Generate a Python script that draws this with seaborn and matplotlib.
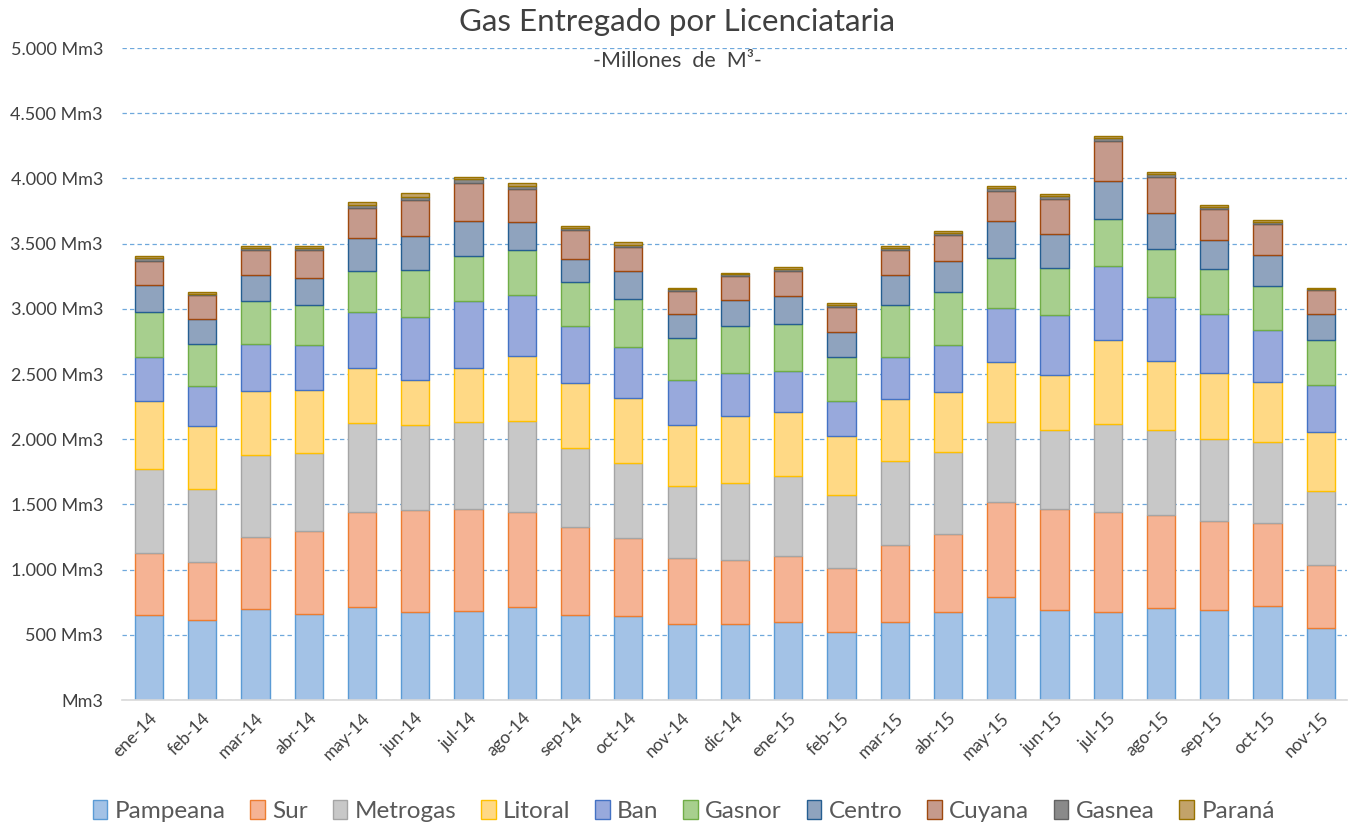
import numpy as np
import pandas as pd
import matplotlib
matplotlib.use("Agg")
import matplotlib.pyplot as plt
import seaborn as sns
from matplotlib.patches import Patch
from matplotlib.ticker import FuncFormatter

months = ["ene-14", "feb-14", "mar-14", "abr-14", "may-14", "jun-14", "jul-14", "ago-14",
          "sep-14", "oct-14", "nov-14", "dic-14", "ene-15", "feb-15", "mar-15", "abr-15",
          "may-15", "jun-15", "jul-15", "ago-15", "sep-15", "oct-15", "nov-15"]

pampeana = [650, 617, 700, 661, 711, 672, 680, 711, 650, 642, 582, 582, 601, 521, 601, 673, 787, 693, 673, 702, 693, 720, 555]
sur      = [478, 445, 548, 634, 729, 788, 788, 729, 675, 604, 504, 488, 507, 491, 584, 602, 734, 775, 769, 717, 681, 640, 479]
metrogas = [644, 554, 631, 603, 683, 652, 666, 700, 604, 573, 552, 595, 607, 563, 645, 625, 614, 605, 673, 654, 626, 622, 567]
litoral  = [524, 486, 489, 481, 420, 343, 409, 499, 504, 499, 472, 516, 496, 447, 477, 461, 458, 420, 643, 529, 508, 453, 458]
ban      = [335, 304, 359, 340, 431, 481, 516, 469, 434, 390, 343, 324, 313, 269, 327, 362, 411, 462, 567, 485, 455, 405, 358]
gasnor   = [343, 321, 332, 310, 313, 359, 343, 341, 340, 370, 323, 362, 359, 343, 395, 408, 385, 361, 367, 373, 341, 338, 344]
centro   = [211, 198, 198, 208, 255, 263, 271, 216, 173, 209, 187, 203, 217, 192, 228, 232, 285, 261, 287, 273, 226, 235, 196]
cuyana   = [184, 178, 197, 214, 230, 275, 289, 253, 225, 186, 176, 181, 192, 189, 194, 202, 229, 264, 306, 276, 232, 238, 188]
gasnea   = [19, 14, 16, 17, 25, 27, 32, 22, 12, 19, 12, 14, 14, 14, 15, 17, 21, 21, 23, 23, 18, 17, 10]
parana   = [17, 13, 14, 16, 19, 25, 17, 22, 16, 20, 12, 13, 14, 14, 15, 16, 17, 21, 21, 18, 14, 15, 8]

series_names = ["Pampeana", "Sur", "Metrogas", "Litoral", "Ban", "Gasnor", "Centro", "Cuyana", "Gasnea", "Paraná"]
series_vals = [pampeana, sur, metrogas, litoral, ban, gasnor, centro, cuyana, gasnea, parana]
fills = ["#a3c2e6", "#f5b394", "#c8c8c8", "#ffd985", "#98a9dc", "#a7cf8e", "#8fa3be", "#c59a8c", "#8a8a8a", "#c2a36a"]
edges = ["#5b9bd5", "#ed7d31", "#a5a5a5", "#ffc000", "#4472c4", "#70ad47", "#255e91", "#9e480e", "#636363", "#997300"]

sns.set_theme(style="white")
plt.rcParams["font.family"] = ["Lato", "DejaVu Sans"]

fig = plt.figure(figsize=(13.54, 8.25), dpi=100)
ax = fig.add_axes([0.0904, 0.1515, 0.9047, 0.7903])

df = pd.DataFrame({"month": months})
base = np.zeros(len(months))
for name, vals, fc, ec in zip(series_names, series_vals, fills, edges):
    df["val"] = np.array(vals, dtype=float)
    sns.barplot(data=df, x="month", y="val", order=months, color=fc,
                saturation=1, edgecolor=ec, linewidth=1.0, width=0.53,
                errorbar=None, ax=ax, bottom=base.copy())
    base = base + df["val"].to_numpy()

ax.set_ylim(0, 5000)
ax.set_xlim(-0.5, len(months) - 0.5)
ax.set_yticks(np.arange(0, 5001, 500))
ax.yaxis.set_major_formatter(FuncFormatter(
    lambda v, p: "Mm3" if v == 0 else f"{int(v):,} Mm3".replace(",", ".")))
ax.grid(axis="y", color="#6fa8dc", linestyle=(0, (3.5, 2.5)), linewidth=0.9)
ax.set_axisbelow(True)
for s in ["left", "right", "top"]:
    ax.spines[s].set_visible(False)
ax.spines["bottom"].set_color("#d9d9d9")
ax.spines["bottom"].set_linewidth(1.2)
ax.set_xlabel("")
ax.set_ylabel("")
ax.tick_params(axis="y", length=0, labelsize=13, labelcolor="#404040", pad=14)
ax.set_xticks(np.arange(-0.5, len(months), 1), minor=True)
ax.tick_params(axis="x", which="major", length=0, labelsize=12.5, labelcolor="#404040", pad=7)
ax.tick_params(axis="x", which="minor", length=5, color="#d9d9d9", width=1)
plt.setp(ax.get_xticklabels(), rotation=45, ha="right", rotation_mode="anchor")

fig.text(0.5, 1 - 22 / 825, "Gas Entregado por Licenciataria", ha="center", va="center",
         fontsize=22.5, color="#404040")
fig.text(0.5, 1 - 61 / 825, "-Millones  de  M³-", ha="center", va="center",
         fontsize=15.5, color="#404040")

handles = [Patch(facecolor=f, edgecolor=e, linewidth=1.0) for f, e in zip(fills, edges)]
fig.legend(handles, series_names, loc="center", bbox_to_anchor=(0.505, 1 - 811 / 825),
           ncol=10, frameon=False, fontsize=17.5, handlelength=0.6, handleheight=0.85,
           handletextpad=0.3, columnspacing=1.02, labelcolor="#595959")

fig.savefig("out.png", dpi=100)
